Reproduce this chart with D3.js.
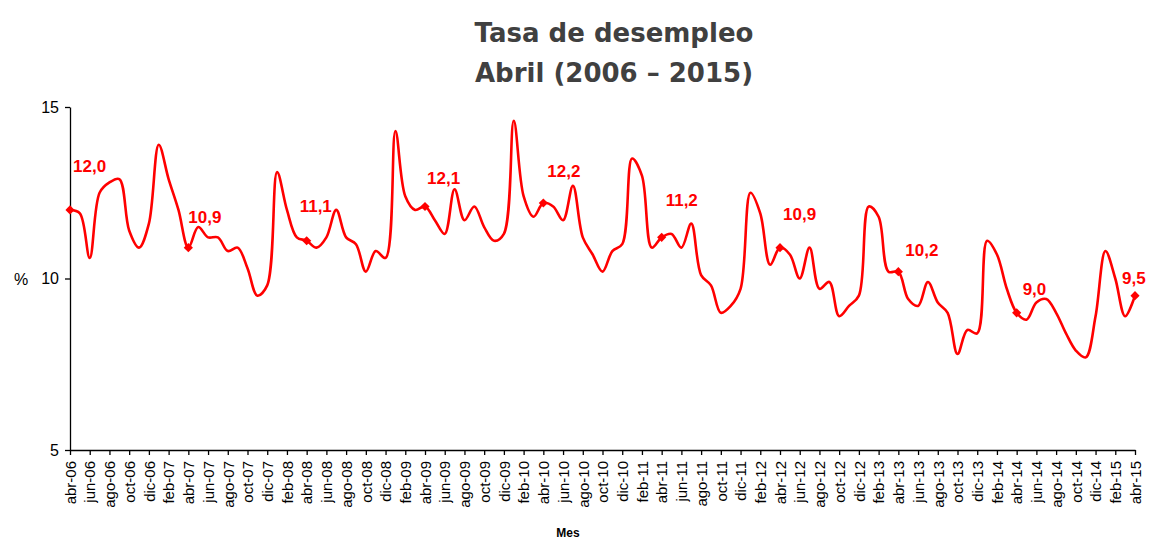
<!DOCTYPE html>
<html>
<head>
<meta charset="utf-8">
<script src="https://d3js.org/d3.v7.min.js"></script>
<style>
  body { margin: 0; background: #fff; }
  .axis text { font-family: "Liberation Sans", Arial, sans-serif; fill: #000; }
  .axis path, .axis line { stroke: #000; stroke-width: 1.3px; }
</style>
</head>
<body>
<svg id="chart" width="1149" height="539"></svg>
<script>
// monthly unemployment rate, abr-06 .. abr-15
var monthNames = ["ene", "feb", "mar", "abr", "may", "jun", "jul", "ago", "sep", "oct", "nov", "dic"];
var startYear = 2006, startMonth = 3;
var values = [
  12.0, 11.9, 10.6, 12.5, 12.8, 12.9, 11.4, 10.9, 11.6, 13.9, 12.9, 12.0,
  10.9, 11.5, 11.2, 11.2, 10.8, 10.9, 10.3, 9.5, 9.8, 13.1, 12.0, 11.2,
  11.1, 10.9, 11.2, 12.0, 11.2, 11.0, 10.2, 10.8, 10.6, 14.3, 12.4, 12.0,
  12.1, 11.7, 11.3, 12.6, 11.7, 12.1, 11.5, 11.1, 11.3, 14.6, 12.4, 11.8,
  12.2, 12.1, 11.7, 12.7, 11.2, 10.7, 10.2, 10.8, 11.0, 13.5, 13.0, 10.9,
  11.2, 11.3, 10.9, 11.6, 10.1, 9.8, 9.0, 9.2, 9.7, 12.5, 11.9, 10.4,
  10.9, 10.7, 10.0, 10.9, 9.7, 9.9, 8.9, 9.2, 9.5, 12.1, 11.8, 10.2,
  10.2, 9.4, 9.2, 9.9, 9.3, 9.0, 7.8, 8.5, 8.4, 11.1, 10.7, 9.7,
  9.0, 8.8, 9.3, 9.4, 9.0, 8.4, 7.9, 7.7, 8.9, 10.8, 10.0, 8.9, 9.5
];
var yTicks = [5, 10, 15];
// hand placed label offsets (px) for the April points, as in the original
var labelOffsets = [[3, -38], [0, -25], [-7, -29], [2, -22], [4, -26], [4, -31], [3, -28], [7, -16], [6, -18], [-13, -12]];

var months = values.map(function (v, i) {
  var k = startMonth + i;
  var yy = (startYear + Math.floor(k / 12)) % 100;
  return monthNames[k % 12] + "-" + (yy < 10 ? "0" : "") + yy;
});
var data = values.map(function (v, i) { return { mes: months[i], valor: v }; });
var aprils = data.filter(function (d) { return d.mes.indexOf("abr") === 0; });

var svg = d3.select("#chart");

var x = d3.scalePoint().domain(months).range([70, 1135]);
var y = d3.scaleLinear().domain([5, 15]).range([450, 107]);

// title
svg.append("text")
  .attr("x", 614).attr("y", 42)
  .attr("text-anchor", "middle")
  .style("font-family", "'DejaVu Sans', Verdana, sans-serif")
  .style("font-weight", "bold")
  .style("font-size", "26px")
  .style("fill", "#404040")
  .text("Tasa de desempleo");
svg.append("text")
  .attr("x", 614).attr("y", 82)
  .attr("text-anchor", "middle")
  .style("font-family", "'DejaVu Sans', Verdana, sans-serif")
  .style("font-weight", "bold")
  .style("font-size", "26px")
  .style("fill", "#404040")
  .text("Abril (2006 – 2015)");

// axes
svg.append("g")
  .attr("class", "axis")
  .attr("transform", "translate(70,0)")
  .call(d3.axisLeft(y).tickValues(yTicks).tickSize(5).tickSizeOuter(0).tickPadding(6))
  .selectAll("text").style("font-size", "16px");

var xAxis = svg.append("g")
  .attr("class", "axis")
  .attr("transform", "translate(0,450)")
  .call(d3.axisBottom(x)
    .tickValues(months.filter(function (m, i) { return i % 2 === 0; }))
    .tickSize(5).tickSizeOuter(0));
xAxis.selectAll("text")
  .attr("transform", "rotate(-90)")
  .attr("x", -11).attr("y", 0).attr("dy", "0.35em")
  .style("text-anchor", "end")
  .style("font-size", "15px");

svg.append("text")
  .attr("x", 14).attr("y", 285)
  .style("font-family", "'Liberation Sans', Arial, sans-serif")
  .style("font-size", "16px")
  .text("%");

svg.append("text")
  .attr("x", 568).attr("y", 537)
  .attr("text-anchor", "middle")
  .style("font-family", "'Liberation Sans', Arial, sans-serif")
  .style("font-weight", "bold")
  .style("font-size", "12px")
  .text("Mes");

// line
var line = d3.line()
  .x(function (d) { return x(d.mes); })
  .y(function (d) { return y(d.valor); })
  .curve(d3.curveCatmullRom);

svg.append("path")
  .datum(data)
  .attr("d", line)
  .attr("fill", "none")
  .attr("stroke", "#ff0000")
  .attr("stroke-width", 2.6);

// April markers (square diamonds) and labels
svg.selectAll(".marker")
  .data(aprils)
  .enter()
  .append("path")
  .attr("class", "marker")
  .attr("d", d3.symbol(d3.symbolSquare, 42))
  .attr("transform", function (d) { return "translate(" + x(d.mes) + "," + y(d.valor) + ") rotate(45)"; })
  .attr("fill", "#ff0000");

svg.selectAll(".etiqueta")
  .data(aprils)
  .enter()
  .append("text")
  .attr("class", "etiqueta")
  .attr("x", function (d, i) { return x(d.mes) + labelOffsets[i][0]; })
  .attr("y", function (d, i) { return y(d.valor) + labelOffsets[i][1]; })
  .style("font-family", "'Liberation Sans', Arial, sans-serif")
  .style("font-weight", "bold")
  .style("font-size", "17px")
  .style("fill", "#ff0000")
  .text(function (d) { return d.valor.toFixed(1).replace(".", ","); });
</script>
</body>
</html>
